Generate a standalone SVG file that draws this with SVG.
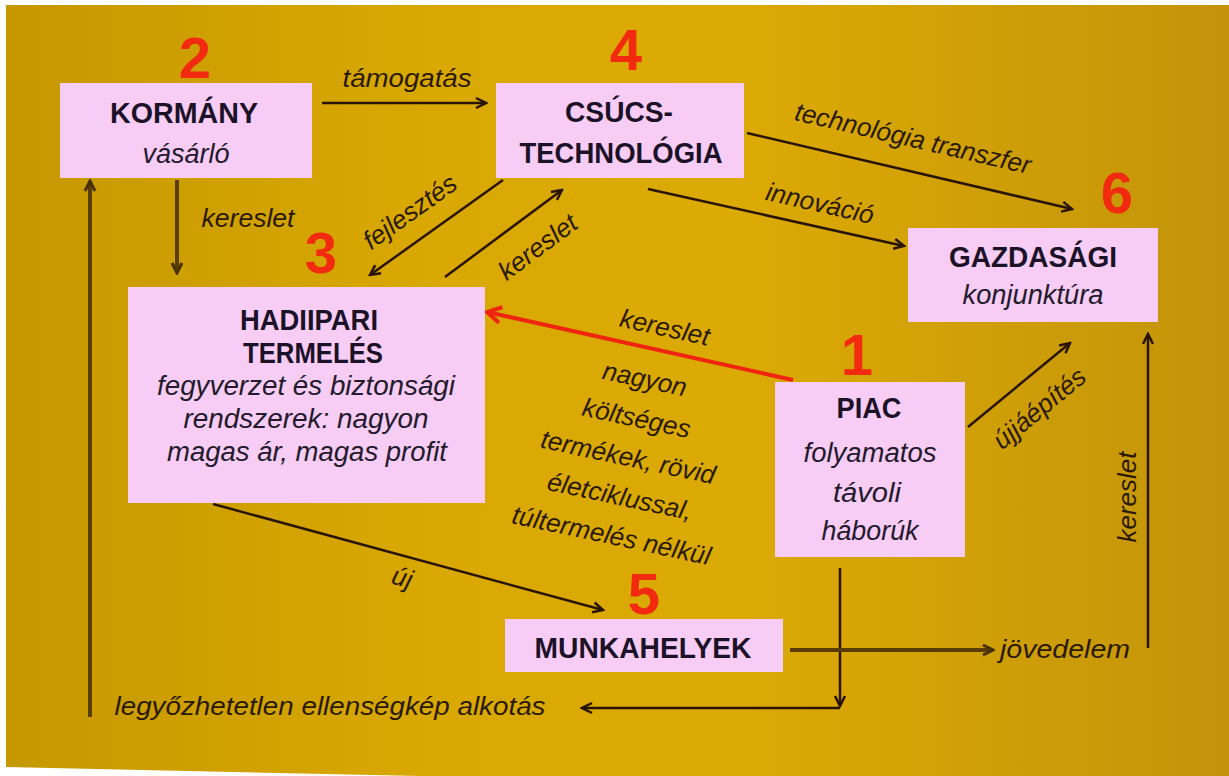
<svg xmlns="http://www.w3.org/2000/svg" width="1229" height="776" viewBox="0 0 1229 776">
<defs>
<linearGradient id="bg" x1="0" y1="0" x2="1" y2="0">
<stop offset="0" stop-color="#c69800"/>
<stop offset="0.35" stop-color="#d9a802"/>
<stop offset="0.6" stop-color="#dcaa04"/>
<stop offset="1" stop-color="#c3940a"/>
</linearGradient>
<marker id="ah" viewBox="0 0 14 14" markerWidth="14" markerHeight="14" refX="12" refY="7" orient="auto" markerUnits="userSpaceOnUse">
<path d="M2,2 L12,7 L2,12" fill="none" stroke="#2a1505" stroke-width="2.5"/>
</marker>
<marker id="ahb" viewBox="0 0 14 14" markerWidth="14" markerHeight="14" refX="12" refY="7" orient="auto" markerUnits="userSpaceOnUse">
<path d="M2,2 L12,7 L2,12" fill="none" stroke="#4a3005" stroke-width="3"/>
</marker>
<marker id="ahr" viewBox="0 0 20 20" markerWidth="20" markerHeight="20" refX="17" refY="10" orient="auto" markerUnits="userSpaceOnUse">
<path d="M3,2 L17,10 L3,18" fill="none" stroke="#f0250f" stroke-width="4"/>
</marker>
</defs>
<style>
.box{fill:#f7cdf6;}
.t{font-family:"Liberation Sans",Arial,sans-serif;font-weight:bold;font-size:29px;fill:#1c1228;text-anchor:middle;}
.i{font-family:"Liberation Sans",Arial,sans-serif;font-style:italic;font-size:27px;fill:#231a2c;text-anchor:middle;}
.l{font-family:"Liberation Sans",Arial,sans-serif;font-style:italic;font-size:26px;fill:#2a1a05;text-anchor:middle;}
.n{font-family:"Liberation Sans",Arial,sans-serif;font-weight:bold;font-size:58px;fill:#f22a10;text-anchor:middle;}
.c{fill:none;stroke:#2a1505;stroke-width:2.5;marker-end:url(#ah);}
.cb{fill:none;stroke:#5a3c05;stroke-width:4;marker-end:url(#ahb);}
.cr{fill:none;stroke:#f0250f;stroke-width:4;marker-end:url(#ahr);}
</style>
<rect x="0" y="0" width="1229" height="776" fill="#ffffff"/>
<polygon points="6,5 1229,5 1229,776 420,776 6,767" fill="url(#bg)"/>

<g id="connectors">
<line class="c" x1="322" y1="103" x2="486" y2="103"/>
<line class="cb" x1="177" y1="180" x2="177" y2="273"/>
<line class="c" x1="503" y1="180" x2="370" y2="275"/>
<line class="c" x1="445" y1="277" x2="562" y2="190"/>
<line class="c" x1="747" y1="133" x2="1072" y2="209"/>
<line class="c" x1="648" y1="189" x2="904" y2="246"/>
<line class="cr" x1="793" y1="380" x2="487" y2="312"/>
<line class="c" x1="213" y1="504" x2="603" y2="610"/>
<line class="c" x1="968" y1="427" x2="1070" y2="343"/>
<line class="c" x1="840" y1="568" x2="840" y2="706"/>
<line class="c" x1="840" y1="708" x2="582" y2="708"/>
<line class="cb" x1="90" y1="717" x2="90" y2="181"/>
<line class="cb" x1="790" y1="650" x2="993" y2="650"/>
<line class="c" x1="1148" y1="648" x2="1148" y2="334"/>

<text class="l" x="407" y="87" textLength="129" lengthAdjust="spacingAndGlyphs">támogatás</text>
<text class="l" x="248" y="227" textLength="93" lengthAdjust="spacingAndGlyphs">kereslet</text>
<text class="l" transform="translate(415,219) rotate(-35.5)" x="0" y="0">fejlesztés</text>
<text class="l" transform="translate(543,254) rotate(-36.6)" x="0" y="0">kereslet</text>
<text class="l" transform="translate(911,147) rotate(13)" x="0" y="0" font-size="28">technológia transzfer</text>
<text class="l" transform="translate(818,212) rotate(12.8)" x="0" y="0" font-size="28">innováció</text>
<text class="l" transform="translate(663,336) rotate(12.4)" x="0" y="0" font-size="27">kereslet</text>
<g transform="translate(628,458) rotate(12)">
<text class="l" x="0" y="-72" font-size="27">nagyon</text>
<text class="l" x="0" y="-32" font-size="27">költséges</text>
<text class="l" x="0" y="8" font-size="27">termékek, rövid</text>
<text class="l" x="0" y="48" font-size="27">életciklussal,</text>
<text class="l" x="0" y="88" font-size="27">túltermelés nélkül</text>
</g>
<text class="l" transform="translate(400,586) rotate(15.2)" x="0" y="0" font-size="27">új</text>
<text class="l" transform="translate(1045,415) rotate(-39.5)" x="0" y="0">újjáépítés</text>
<text class="l" transform="translate(1136,497) rotate(-90)" x="0" y="0" font-size="27">kereslet</text>
<text class="l" x="1065" y="658" textLength="130" lengthAdjust="spacingAndGlyphs">jövedelem</text>
<text class="l" x="330" y="715" textLength="431" lengthAdjust="spacingAndGlyphs">legyőzhetetlen ellenségkép alkotás</text>
</g>

<g id="node-kormany">
<rect class="box" x="60" y="83" width="252" height="95"/>
<text class="t" x="184" y="123" textLength="148" lengthAdjust="spacingAndGlyphs">KORMÁNY</text>
<text class="i" x="186" y="163" textLength="87" lengthAdjust="spacingAndGlyphs">vásárló</text>
<text class="n" x="195" y="78">2</text>
</g>

<g id="node-csucs">
<rect class="box" x="496" y="83" width="248" height="95"/>
<text class="t" x="619" y="122" textLength="108" lengthAdjust="spacingAndGlyphs">CSÚCS-</text>
<text class="t" x="621" y="163" textLength="203" lengthAdjust="spacingAndGlyphs">TECHNOLÓGIA</text>
<text class="n" x="626" y="70">4</text>
</g>

<g id="node-gazdasagi">
<rect class="box" x="908" y="228" width="250" height="94"/>
<text class="t" x="1033" y="267" textLength="168" lengthAdjust="spacingAndGlyphs">GAZDASÁGI</text>
<text class="i" x="1033" y="304" textLength="141" lengthAdjust="spacingAndGlyphs">konjunktúra</text>
<text class="n" x="1117" y="213">6</text>
</g>

<g id="node-hadiipari">
<rect class="box" x="128" y="287" width="357" height="216"/>
<text class="t" x="309" y="330" textLength="138" lengthAdjust="spacingAndGlyphs">HADIIPARI</text>
<text class="t" x="313" y="363" textLength="140" lengthAdjust="spacingAndGlyphs">TERMELÉS</text>
<text class="i" x="306" y="395" textLength="298" lengthAdjust="spacingAndGlyphs">fegyverzet és biztonsági</text>
<text class="i" x="306" y="428" textLength="245" lengthAdjust="spacingAndGlyphs">rendszerek: nagyon</text>
<text class="i" x="307" y="461" textLength="280" lengthAdjust="spacingAndGlyphs">magas ár, magas profit</text>
<text class="n" x="321" y="273">3</text>
</g>

<g id="node-piac">
<rect class="box" x="775" y="382" width="190" height="175"/>
<text class="t" x="869" y="418" textLength="65" lengthAdjust="spacingAndGlyphs">PIAC</text>
<text class="i" x="870" y="462" textLength="133" lengthAdjust="spacingAndGlyphs">folyamatos</text>
<text class="i" x="867" y="502" textLength="68" lengthAdjust="spacingAndGlyphs">távoli</text>
<text class="i" x="870" y="540" textLength="97" lengthAdjust="spacingAndGlyphs">háborúk</text>
<text class="n" x="857" y="375">1</text>
</g>

<g id="node-munkahelyek">
<rect class="box" x="505" y="619" width="278" height="53"/>
<text class="t" x="643" y="658" textLength="217" lengthAdjust="spacingAndGlyphs">MUNKAHELYEK</text>
<text class="n" x="644" y="614">5</text>
</g>
</svg>
